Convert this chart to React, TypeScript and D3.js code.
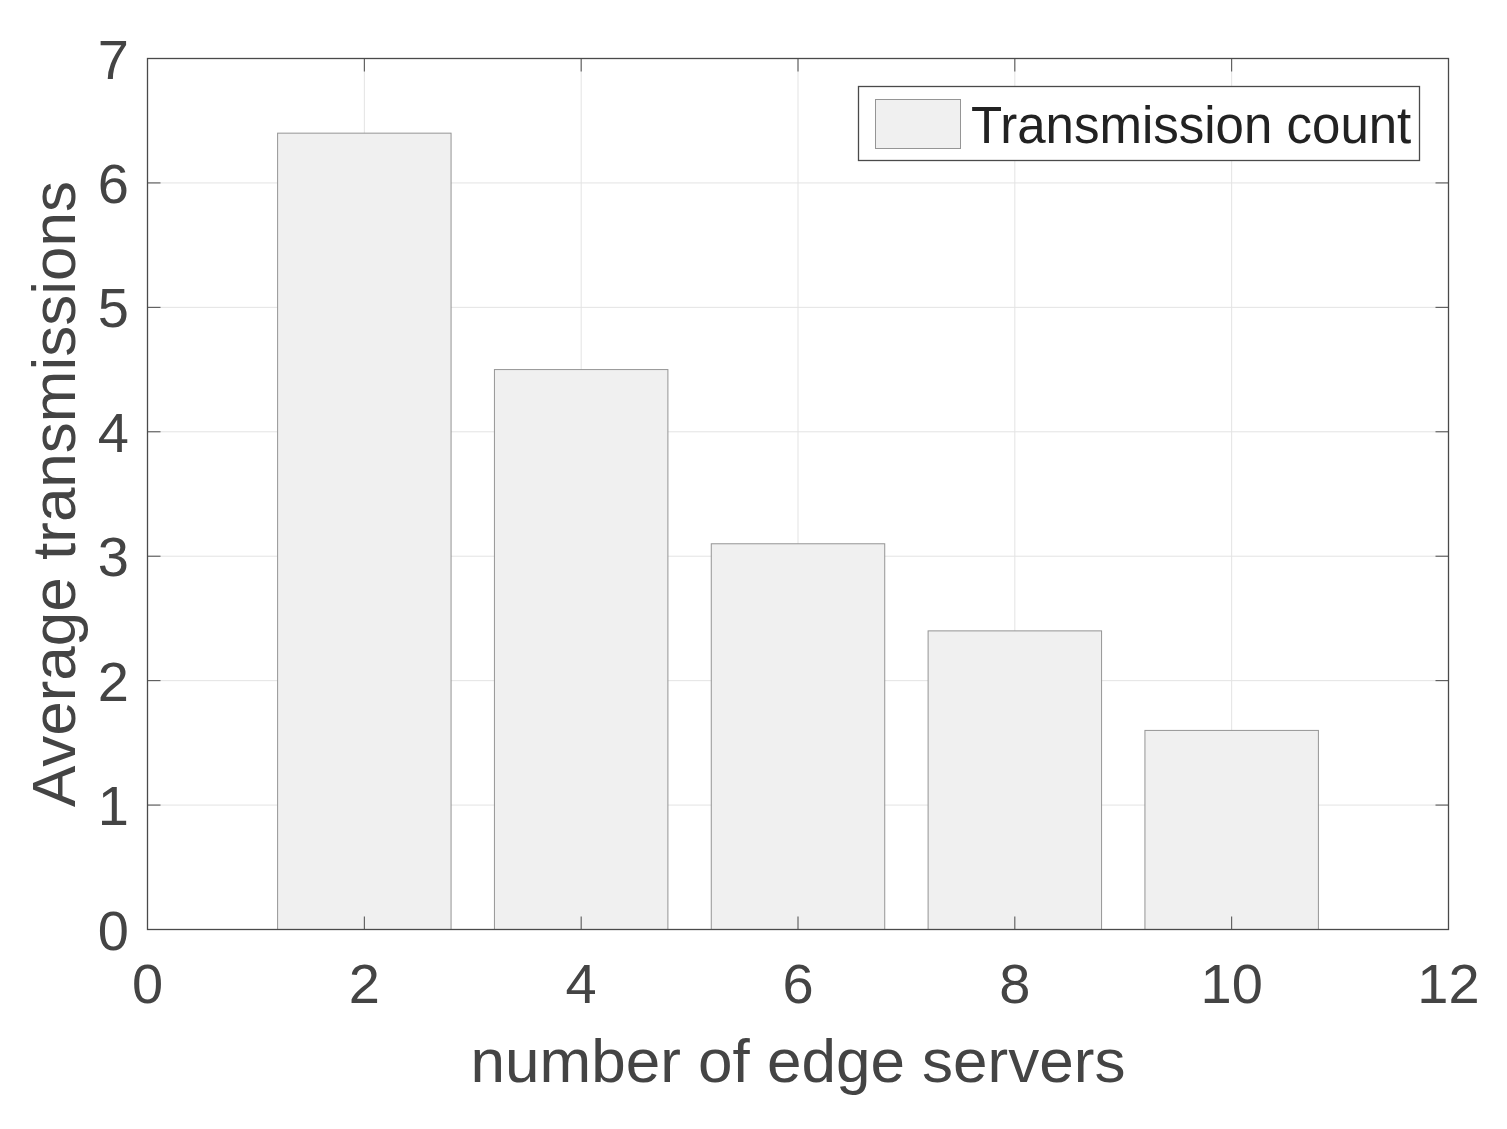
import React from "react";
import * as d3 from "d3";

const categories = [2, 4, 6, 8, 10];
const values = [6.4, 4.5, 3.1, 2.4, 1.6];
const xTicks = [0, 2, 4, 6, 8, 10, 12];
const yTicks = [0, 1, 2, 3, 4, 5, 6, 7];
const seriesName = "Transmission count";
const xLabel = "number of edge servers";
const yLabel = "Average transmissions";

const W = 1507;
const H = 1129;
const L = 147.5, R = 1448.5, T = 58.5, B = 929.5;
const FONT = "'Liberation Sans', Arial, Helvetica, sans-serif";
const AX = "#4a4a4a";

export default function App() {
  const x = d3.scaleLinear().domain([0, 12]).range([L, R]);
  const y = d3.scaleLinear().domain([0, 7]).range([B, T]);
  const bw = x(1.6) - x(0);
  const tick = 13;
  return (
    <svg width={W} height={H} style={{ position: "absolute", left: 0, top: 0, background: "#fff" }}>
      <rect x={0} y={0} width={W} height={H} fill="#fff" />
      {xTicks.slice(1, -1).map((t) => (
        <line key={"gx" + t} x1={x(t)} x2={x(t)} y1={T} y2={B} stroke="#e3e3e3" strokeWidth={1} />
      ))}
      {yTicks.slice(1, -1).map((t) => (
        <line key={"gy" + t} x1={L} x2={R} y1={y(t)} y2={y(t)} stroke="#e3e3e3" strokeWidth={1} />
      ))}
      {categories.map((c, i) => (
        <rect
          key={"b" + c}
          x={x(c) - bw / 2}
          y={y(values[i])}
          width={bw}
          height={y(0) - y(values[i])}
          fill="#f0f0f0"
          stroke="#959595"
          strokeWidth={1}
        />
      ))}
      {xTicks.slice(1, -1).map((t) => (
        <g key={"tx" + t}>
          <line x1={x(t)} x2={x(t)} y1={B} y2={B - tick} stroke={AX} strokeWidth={1} />
          <line x1={x(t)} x2={x(t)} y1={T} y2={T + tick} stroke={AX} strokeWidth={1} />
        </g>
      ))}
      {yTicks.slice(1, -1).map((t) => (
        <g key={"ty" + t}>
          <line x1={L} x2={L + tick} y1={y(t)} y2={y(t)} stroke={AX} strokeWidth={1} />
          <line x1={R} x2={R - tick} y1={y(t)} y2={y(t)} stroke={AX} strokeWidth={1} />
        </g>
      ))}
      <rect x={L} y={T} width={R - L} height={B - T} fill="none" stroke={AX} strokeWidth={1.3} />
      {xTicks.map((t) => (
        <text key={"lx" + t} x={x(t)} y={1003} textAnchor="middle" fontFamily={FONT} fontSize={56} fill="#444">
          {t}
        </text>
      ))}
      {yTicks.map((t) => (
        <text key={"ly" + t} x={129} y={y(t) + 20} textAnchor="end" fontFamily={FONT} fontSize={56} fill="#444">
          {t}
        </text>
      ))}
      <text x={(L + R) / 2} y={1082} textAnchor="middle" fontFamily={FONT} fontSize={62} fill="#444">
        {xLabel}
      </text>
      <text
        transform={`translate(75, ${(T + B) / 2}) rotate(-90)`}
        textAnchor="middle"
        fontFamily={FONT}
        fontSize={62}
        fill="#444"
      >
        {yLabel}
      </text>
      <rect x={858.5} y={86.5} width={561} height={74} fill="#fff" stroke={AX} strokeWidth={1.3} />
      <rect x={875.5} y={99.5} width={85} height={49} fill="#f0f0f0" stroke="#959595" strokeWidth={1} />
      <text x={971} y={143} fontFamily={FONT} fontSize={51} fill="#222">
        {seriesName}
      </text>
    </svg>
  );
}
